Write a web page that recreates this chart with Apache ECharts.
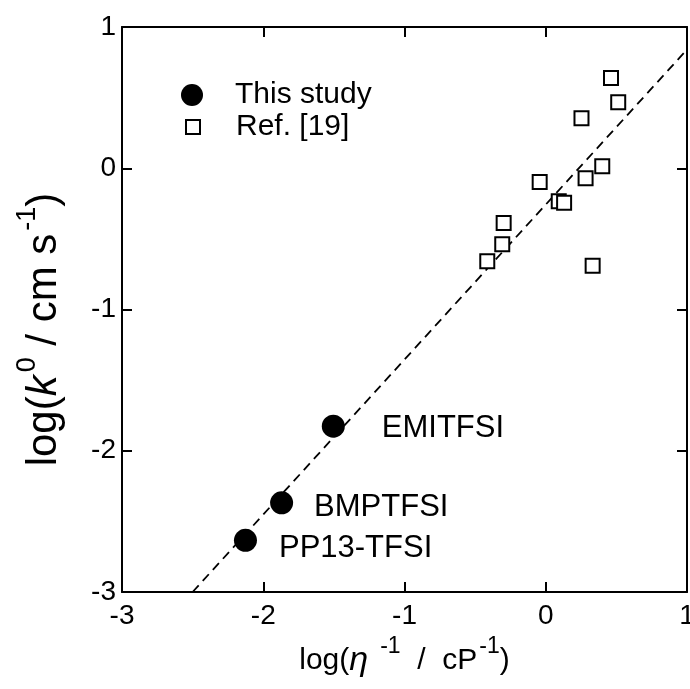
<!DOCTYPE html>
<html>
<head>
<meta charset="utf-8">
<script src="https://cdn.jsdelivr.net/npm/echarts@6/dist/echarts.min.js"></script>
<style>
html,body{margin:0;padding:0;background:#fff;}
#chart{width:690px;height:689px;}
</style>
</head>
<body>
<div id="chart"></div>
<script>
// ---- data ----
var studyNames = ['EMITFSI', 'BMPTFSI', 'PP13-TFSI'];
var studyX = [-1.504, -1.870, -2.126];
var studyY = [-1.826, -2.369, -2.634];

var refX = [0.462, 0.513, 0.253, 0.400, 0.282, -0.043, 0.092, 0.130, -0.298, -0.308, -0.414, 0.332];
var refY = [0.639, 0.467, 0.354, 0.014, -0.071, -0.097, -0.234, -0.245, -0.387, -0.538, -0.658, -0.691];

var fitX = [-2.5, 1.0];
var fitY = [-3.0, 0.84];

var xTicks = [-3, -2, -1, 0, 1];
var yTicks = [-3, -2, -1, 0, 1];

var seriesNames = ['This study', 'Ref. [19]'];

// ---- styles ----
var FONT = '"Liberation Sans", Arial, Helvetica, sans-serif';
var labelOffsets = [[32, 2], [16, 5], [17, 8]];

function zip(xs, ys) { return xs.map(function (x, i) { return [x, ys[i]]; }); }

var studyData = studyX.map(function (x, i) {
  return {
    value: [x, studyY[i]],
    name: studyNames[i],
    label: { offset: labelOffsets[i] }
  };
});

var chart = echarts.init(document.getElementById('chart'));

var axisLine = { show: true, onZero: false, lineStyle: { color: '#000', width: 2 } };
var axisTick = { show: true, inside: true, length: 10, lineStyle: { color: '#000', width: 2 } };

var option = {
  animation: false,
  backgroundColor: '#fff',
  textStyle: { fontFamily: FONT },
  grid: { left: 122, right: 3, top: 27, bottom: 97, containLabel: false, outerBoundsMode: 'none' },
  legend: [
    {
      data: [seriesNames[0]],
      left: 181, top: 80, padding: 0,
      itemWidth: 22, itemHeight: 22,
      textStyle: { fontSize: 30, color: '#000', fontFamily: FONT, padding: [0, 0, 0, 27] },
      selectedMode: false
    },
    {
      data: [seriesNames[1]],
      left: 185, top: 112, padding: 0,
      itemWidth: 14, itemHeight: 14,
      textStyle: { fontSize: 30, color: '#000', fontFamily: FONT, padding: [0, 0, 0, 31] },
      selectedMode: false
    }
  ],
  xAxis: [
    {
      type: 'value', min: -3, max: 1, interval: 1,
      axisLine: axisLine, axisTick: axisTick, splitLine: { show: false },
      axisLabel: { fontSize: 28, color: '#000', margin: 10, fontFamily: FONT,
        customValues: xTicks },
      name: 'log({i|η}{s1|-1}  /  cP{s|-1})',
      nameLocation: 'middle', nameGap: 36,
      nameTextStyle: {
        fontSize: 30, color: '#000', fontFamily: FONT,
        rich: {
          i: { fontSize: 34, fontStyle: 'italic', color: '#000', fontFamily: FONT },
          s1: { fontSize: 23, color: '#000', fontFamily: FONT, padding: [0, 0, 28, 12] },
          s: { fontSize: 23, color: '#000', fontFamily: FONT, padding: [0, 0, 28, 2] }
        }
      }
    },
    {
      type: 'value', min: -3, max: 1, interval: 1, position: 'top',
      axisLine: axisLine, axisTick: axisTick, splitLine: { show: false },
      axisLabel: { show: false }
    }
  ],
  yAxis: [
    {
      type: 'value', min: -3, max: 1, interval: 1,
      axisLine: axisLine, axisTick: axisTick, splitLine: { show: false },
      axisLabel: { fontSize: 28, color: '#000', margin: 6, fontFamily: FONT,
        customValues: yTicks },
      name: 'log({i|k}{s|0} / cm s{s|-1})',
      nameLocation: 'middle', nameGap: 47, nameRotate: 90,
      nameTextStyle: {
        fontSize: 42, color: '#000', fontFamily: FONT, padding: [0, 40, 0, 0],
        rich: {
          i: { fontSize: 42, fontStyle: 'italic', color: '#000', fontFamily: FONT },
          s: { fontSize: 27, color: '#000', fontFamily: FONT, padding: [0, 0, 34, 3] }
        }
      }
    },
    {
      type: 'value', min: -3, max: 1, interval: 1, position: 'right',
      axisLine: axisLine, axisTick: axisTick, splitLine: { show: false },
      axisLabel: { show: false }
    }
  ],
  series: [
    {
      name: 'fit', type: 'line', data: zip(fitX, fitY),
      showSymbol: false, symbol: 'none', silent: true, z: 1,
      lineStyle: { color: '#000', width: 1.8, type: [9, 6] }
    },
    {
      name: seriesNames[1], type: 'scatter', data: zip(refX, refY),
      symbol: 'rect', symbolSize: 14, z: 3,
      itemStyle: { color: '#fff', borderColor: '#000', borderWidth: 2, opacity: 1 }
    },
    {
      name: seriesNames[0], type: 'scatter', data: studyData,
      symbol: 'circle', symbolSize: 23, z: 4,
      itemStyle: { color: '#000', opacity: 1 },
      label: {
        show: true, position: 'right', distance: 5,
        formatter: '{b}', fontSize: 31, color: '#000', fontFamily: FONT
      }
    }
  ]
};
chart.setOption(option);
</script>
</body>
</html>
